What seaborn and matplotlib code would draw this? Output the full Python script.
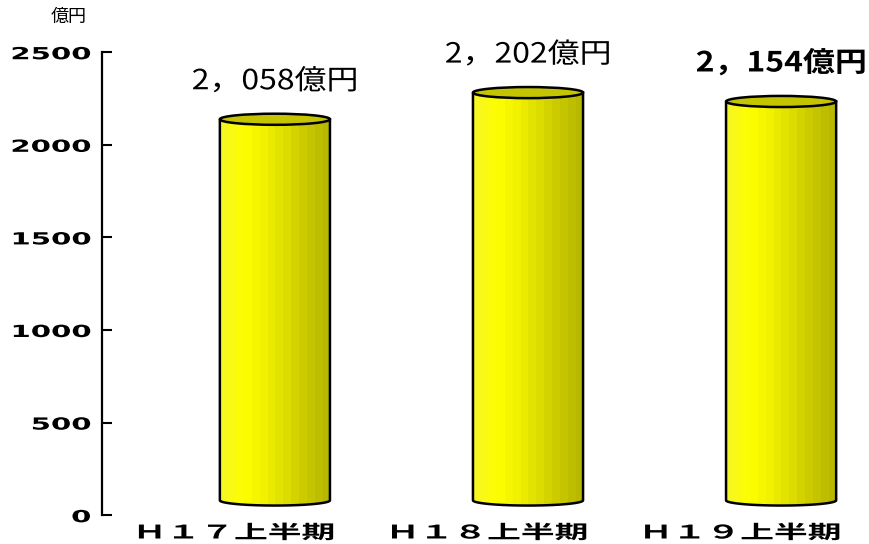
import numpy as np
import pandas as pd
import matplotlib
matplotlib.use("Agg")
import matplotlib.pyplot as plt
import matplotlib.patheffects as pe
import seaborn as sns
from matplotlib.patches import Ellipse, PathPatch
from matplotlib.path import Path
from matplotlib.colors import LinearSegmentedColormap
from matplotlib.transforms import Affine2D, ScaledTranslation

periods = ["Ｈ１７上半期", "Ｈ１８上半期", "Ｈ１９上半期"]
values = [2058, 2202, 2154]
value_labels = ["2，058億円", "2，202億円", "2，154億円"]
y_ticks = [0, 500, 1000, 1500, 2000, 2500]
unit = "億円"


class Stretch(pe.AbstractPathEffect):
    # widen text horizontally (the original uses an extended gothic face)
    def __init__(self, sx, align="left"):
        super().__init__()
        self.sx = sx
        self.align = align

    def draw_path(self, renderer, gc, tpath, affine, rgbFace=None):
        ext = tpath.get_extents()
        anchor = {"left": ext.x0, "center": (ext.x0 + ext.x1) / 2, "right": ext.x1}[self.align]
        stretch = Affine2D().translate(-anchor, 0).scale(self.sx, 1).translate(anchor, 0)
        renderer.draw_path(gc, tpath, stretch + affine, rgbFace)


sns.set_style("white")
plt.rcParams["font.family"] = ["Noto Sans CJK JP", "DejaVu Sans"]
plt.rcParams["text.color"] = "black"
plt.rcParams["xtick.color"] = "black"
plt.rcParams["ytick.color"] = "black"

df = pd.DataFrame({"period": periods, "value": values})

fig, ax = plt.subplots(figsize=(8.7, 5.44), dpi=100)
fig.subplots_adjust(left=0.117, right=0.988, bottom=0.053, top=0.904)

sns.barplot(data=df, x="period", y="value", color="#ffff00", width=0.435, ax=ax)

depth = 80   # 3D offset of the cylinders
cap = 40     # half height of the end ellipses
cmap = LinearSegmentedColormap.from_list(
    "cyl", ["#f6f620", "#ffff00", "#f0f000", "#dede00", "#c8c800", "#b8b800"], N=14)
grad = np.linspace(0, 1, 200).reshape(1, -1)

for i, bar in enumerate(list(ax.patches)):
    x, w, h = bar.get_x(), bar.get_width(), bar.get_height()
    bar.set_visible(False)
    base, top = depth, h + depth
    t = np.linspace(np.pi, 2 * np.pi, 40)
    arc = np.column_stack([x + w / 2 + w / 2 * np.cos(t), base + cap * 0.7 * np.sin(t)])
    verts = [(x, top)] + arc.tolist() + [(x + w, top), (x, top)]
    body = PathPatch(Path(verts), facecolor="none", edgecolor="black", lw=1.8, zorder=3)
    ax.add_patch(body)
    im = ax.imshow(grad, extent=[x, x + w, base - cap, top], aspect="auto",
                   cmap=cmap, zorder=2, interpolation="nearest")
    im.set_clip_path(body)
    ax.add_patch(Ellipse((x + w / 2, top), w, 2 * cap * 0.75, facecolor="#c4c400",
                         edgecolor="black", lw=1.8, zorder=4))
    ax.annotate(value_labels[i], (x + w / 2, top), xytext=(0, 38), textcoords="offset pixels",
                ha="center", va="center", fontsize=20, color="black",
                fontweight="bold" if i == 2 else "normal",
                path_effects=[Stretch(1.15, "center")])

ax.set_xlim(-0.684, 2.31)
ax.set_ylim(0, 2500)
ax.set_yticks(y_ticks)
ax.set_xlabel("")
ax.set_ylabel("")
sns.despine(ax=ax, bottom=True)
ax.spines["left"].set_linewidth(1.6)
ax.spines["left"].set_color("black")
ax.tick_params(axis="y", left=True, direction="in", length=7, width=1.5, pad=8, colors="black")
ax.tick_params(axis="x", bottom=False, length=0, pad=6, colors="black")

shift = ScaledTranslation(-0.40, 0, fig.dpi_scale_trans)
for lab in ax.get_yticklabels():
    lab.set_family(["DejaVu Sans"])
    lab.set_fontweight("bold")
    lab.set_fontsize(12)
    lab.set_path_effects([Stretch(1.75, "right")])
for lab in ax.get_xticklabels():
    lab.set_fontsize(13.5)
    lab.set_fontweight("bold")
    lab.set_path_effects([Stretch(1.8, "center")])
    lab.set_transform(lab.get_transform() + shift)

fig.text(0.079, 0.969, unit, ha="center", va="center", fontsize=13, color="black")

fig.savefig("out.png", dpi=100)
